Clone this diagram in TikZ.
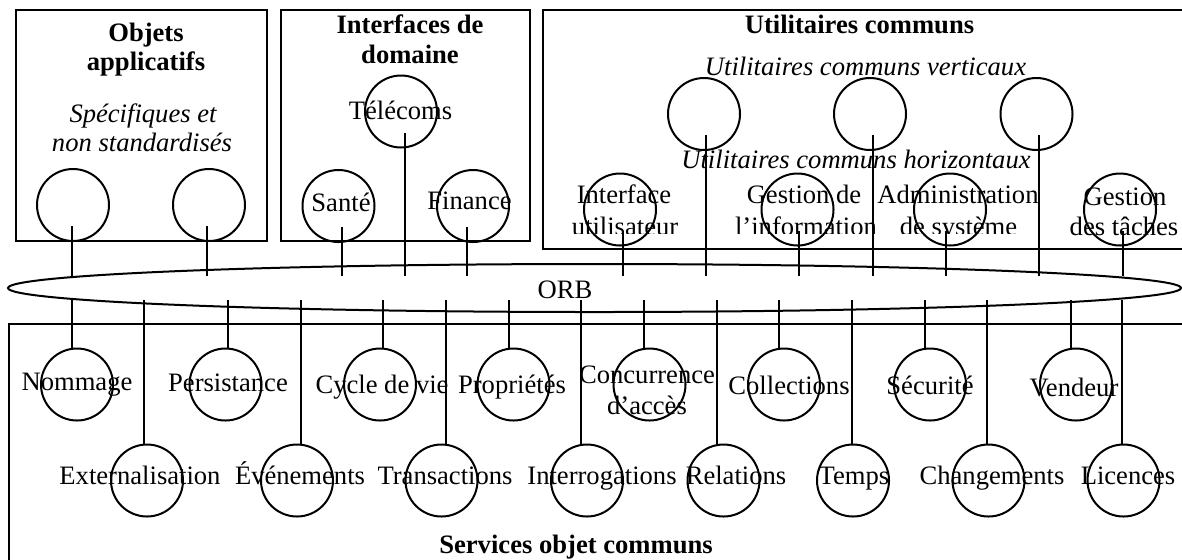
\documentclass[tikz,border=0pt]{standalone}
\usepackage{fontspec}
\setmainfont{Liberation Serif}
\usetikzlibrary{shapes.geometric}
\begin{document}
\begin{tikzpicture}[x=0.5pt,y=-0.5pt,
  frame/.style={draw,line width=1pt},
  wire/.style={line width=1pt},
  port/.style={circle,draw,line width=1pt,minimum size=36pt,inner sep=0pt},
  lbl/.style={anchor=base,inner sep=0pt,font=\fontsize{13.3}{15}\selectfont},
  ttl/.style={lbl,font=\fontsize{13.3}{15}\selectfont\bfseries},
  sub/.style={lbl,font=\fontsize{13.3}{15}\selectfont\itshape}]
\clip (0,0) rectangle (1182,559);

% group frames
\draw[frame] (16,10) rectangle (267,241);
\draw[frame] (281,10) rectangle (530,241);
\draw[frame] (543,10) rectangle (1192,249);
\draw[frame] (9,324) rectangle (1192,575);

% object request broker
\node[ellipse,draw,line width=1pt,minimum width=586.5pt,minimum height=24pt,inner sep=0pt] (orb) at (594.5,288) {};
\node[lbl] (orbname) at (565,298) {ORB};
\coordinate (tapin) at (594,276);
\coordinate (tapout) at (594,300);

% application objects
\node[ttl] (oat1) at (146,41) {Objets};
\node[ttl] (oat2) at (146,70) {applicatifs};
\node[sub] (oas1) at (143,122) {Spécifiques et};
\node[sub] (oas2) at (142,151) {non standardisés};

% domain interfaces
\node[ttl] (dit1) at (410,33) {Interfaces de};
\node[ttl] (dit2) at (410,63) {domaine};
\node[lbl] (ttel) at (400.5,119) {Télécoms};
\node[lbl] (tsan) at (341,211) {Santé};
\node[lbl] (tfin) at (469.5,209) {Finance};

% common facilities
\node[ttl] (uct) at (859.5,33) {Utilitaires communs};
\node[sub] (ucv) at (865.5,75) {Utilitaires communs verticaux};
\node[sub] (uch) at (856,168) {Utilitaires communs horizontaux};
\node[lbl] (tui1) at (624,203) {Interface};
\node[lbl] (tgi1) at (804,203) {Gestion de};
\node[lbl] (tadm1) at (958,203) {Administration};
\node[lbl] (tgt1) at (1125,205) {Gestion};
\node[lbl] (tgt2) at (1124,235) {des tâches};
\begin{scope}
  \clip (560,150) rectangle (1060,233);
  \node[lbl] (tui2) at (625,235) {utilisateur};
  \node[lbl] (tgi2) at (806,235) {l’information};
  \node[lbl] (tadm2) at (958.5,235) {de système};
\end{scope}

% upper ports wired down to the broker
\foreach \n/\cx/\cy/\lx in {oa1/73/205/72, oa2/209/205/207,
    tel/401/111.5/405, san/338.5/206/342, fin/473/206/467,
    ui/620/209.5/623, v1/704/114/706, gi/797.5/209.5/799,
    v2/870/114/873, adm/950/209.5/946, v3/1036.5/114/1039,
    gt/1120/209.5/1123} {
  \node[port] (\n) at (\cx,\cy) {};
  \draw[wire] ([yshift=-10.5pt]\n.center -| \lx,0) -- (tapin -| \lx,0);
}

% common object services, first row
\foreach \n/\cx/\lx/\tx/\b/\t in {nom/77/72/77/390/Nommage,
    per/225.5/228/228/391/Persistance, cyc/380/383/382/393/Cycle de vie,
    pro/513.5/509/512/393/Propriétés, col/784/779/789/394/Collections,
    sec/930/925/930/394/Sécurité, ven/1076/1071/1074/396/Vendeur} {
  \node[port] (\n) at (\cx,384.5) {};
  \node[lbl] (t\n) at (\tx,\b) {\t};
  \draw[wire] (tapout -| \lx,0) -- (\n.north -| \lx,0);
}
\node[port] (conc) at (649.5,384.5) {};
\node[lbl] (tconc1) at (647,383) {Concurrence};
\node[lbl] (tconc2) at (647,414) {d’accès};
\draw[wire] (tapout -| 644,0) -- (conc.north -| 644,0);

% common object services, second row
\foreach \n/\cx/\lx/\tx/\t in {ext/147/144/140/Externalisation,
    eve/297/301/300/Événements, tra/441.5/446/445/Transactions,
    itg/587/581/602/Interrogations, rel/723.5/717/736/Relations,
    tem/853/852/854/Temps, cha/988.5/987/992/Changements,
    lic/1123.5/1122/1128/Licences} {
  \node[port] (\n) at (\cx,480.5) {};
  \node[lbl] (t\n) at (\tx,484) {\t};
  \draw[wire] (tapout -| \lx,0) -- (\n.north -| \lx,0);
}

\node[ttl] (cos) at (576,553) {Services objet communs};
\end{tikzpicture}
\end{document}
